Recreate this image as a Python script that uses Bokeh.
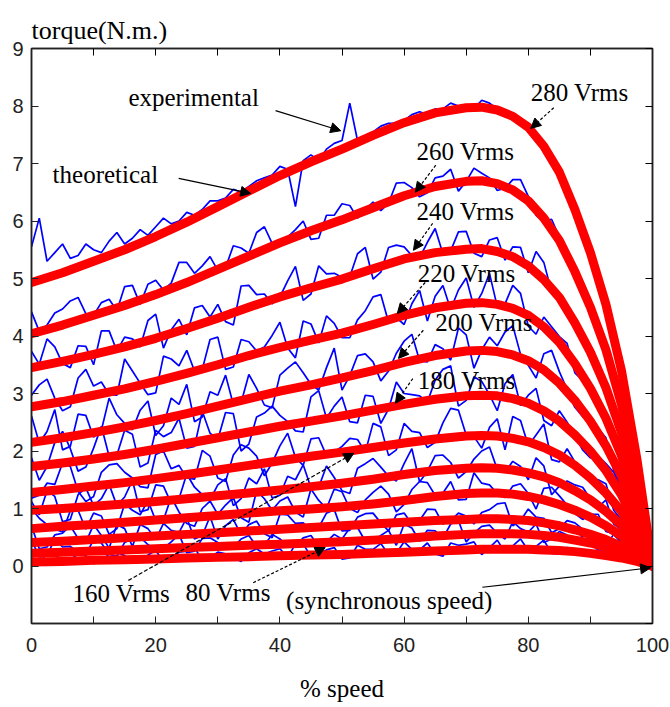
from bokeh.plotting import figure
from bokeh.models import Range1d, LinearAxis, FixedTicker, Arrow, NormalHead, Label
from bokeh.embed import file_html
from bokeh.resources import INLINE

# ---------------- data ----------------
speed_theory = [0, 5, 10, 15, 20, 25, 30, 35, 40, 45, 50, 55, 60, 65, 70, 72.5, 75, 77.5,
                80, 82.5, 85, 87.5, 90, 92.5, 95, 97.5, 100]

torque_280_theory = [4.93, 5.10, 5.30, 5.50, 5.73, 5.98, 6.25, 6.52, 6.79, 7.03, 7.25, 7.49, 7.71, 7.88, 7.97, 7.98, 7.93, 7.82, 7.63, 7.30, 6.85, 6.20, 5.45, 4.55, 3.40, 1.85, 0.0]
torque_260_theory = [4.04, 4.19, 4.36, 4.53, 4.72, 4.93, 5.16, 5.39, 5.62, 5.83, 6.02, 6.23, 6.44, 6.60, 6.69, 6.70, 6.65, 6.54, 6.35, 6.05, 5.66, 5.12, 4.50, 3.76, 2.81, 1.53, 0.0]
torque_240_theory = [3.45, 3.56, 3.68, 3.81, 3.96, 4.13, 4.31, 4.50, 4.68, 4.84, 4.99, 5.17, 5.34, 5.45, 5.51, 5.52, 5.47, 5.38, 5.22, 4.98, 4.67, 4.23, 3.72, 3.10, 2.32, 1.26, 0.0]
torque_220_theory = [2.77, 2.86, 2.97, 3.08, 3.21, 3.35, 3.50, 3.66, 3.80, 3.93, 4.05, 4.20, 4.36, 4.49, 4.57, 4.58, 4.55, 4.48, 4.36, 4.16, 3.89, 3.52, 3.09, 2.57, 1.92, 1.04, 0.0]
torque_200_theory = [2.15, 2.23, 2.32, 2.42, 2.53, 2.65, 2.78, 2.91, 3.04, 3.15, 3.27, 3.40, 3.54, 3.66, 3.74, 3.75, 3.73, 3.67, 3.57, 3.41, 3.18, 2.88, 2.52, 2.09, 1.56, 0.85, 0.0]
torque_180_theory = [1.73, 1.79, 1.86, 1.94, 2.03, 2.13, 2.23, 2.33, 2.43, 2.52, 2.61, 2.71, 2.81, 2.90, 2.96, 2.97, 2.96, 2.91, 2.83, 2.70, 2.52, 2.28, 2.00, 1.66, 1.24, 0.68, 0.0]
torque_160_theory = [1.28, 1.33, 1.39, 1.45, 1.52, 1.59, 1.67, 1.75, 1.83, 1.91, 1.98, 2.06, 2.14, 2.21, 2.26, 2.27, 2.26, 2.22, 2.16, 2.06, 1.93, 1.75, 1.53, 1.27, 0.95, 0.52, 0.0]
torque_140_theory = [0.97, 1.00, 1.04, 1.08, 1.12, 1.17, 1.22, 1.27, 1.32, 1.38, 1.44, 1.51, 1.59, 1.66, 1.70, 1.71, 1.70, 1.67, 1.62, 1.55, 1.45, 1.31, 1.15, 0.95, 0.71, 0.39, 0.0]
torque_120_theory = [0.65, 0.69, 0.72, 0.76, 0.80, 0.84, 0.88, 0.92, 0.96, 0.99, 1.03, 1.08, 1.14, 1.21, 1.26, 1.27, 1.27, 1.25, 1.21, 1.15, 1.07, 0.97, 0.85, 0.70, 0.52, 0.29, 0.0]
torque_100_theory = [0.41, 0.43, 0.46, 0.49, 0.52, 0.55, 0.58, 0.61, 0.64, 0.67, 0.70, 0.73, 0.76, 0.79, 0.81, 0.82, 0.82, 0.81, 0.79, 0.75, 0.70, 0.63, 0.55, 0.46, 0.34, 0.19, 0.0]
torque_80_theory = [0.22, 0.24, 0.26, 0.28, 0.30, 0.32, 0.34, 0.36, 0.38, 0.40, 0.42, 0.45, 0.48, 0.52, 0.55, 0.56, 0.56, 0.56, 0.55, 0.53, 0.50, 0.45, 0.40, 0.33, 0.25, 0.14, 0.0]
torque_60_theory = [0.07, 0.08, 0.10, 0.11, 0.12, 0.14, 0.15, 0.16, 0.18, 0.19, 0.20, 0.22, 0.24, 0.26, 0.28, 0.29, 0.29, 0.29, 0.29, 0.28, 0.27, 0.25, 0.22, 0.18, 0.14, 0.08, 0.0]

speed_measured = [0, 1.25, 2.5, 3.75, 5, 6.25, 7.5, 8.75, 10, 11.25,
                  12.5, 13.75, 15, 16.25, 17.5, 18.75, 20, 21.25, 22.5, 23.75,
                  25, 26.25, 27.5, 28.75, 30, 31.25, 32.5, 33.75, 35, 36.25,
                  37.5, 38.75, 40, 41.25, 42.5, 43.75, 45, 46.25, 47.5, 48.75,
                  50, 51.25, 52.5, 53.75, 55, 56.25, 57.5, 58.75, 60, 61.25,
                  62.5, 63.75, 65, 66.25, 67.5, 68.75, 70, 71.25, 72.5, 73.75,
                  75, 76.25, 77.5, 78.75, 80, 81.25, 82.5, 83.75, 85, 86.25,
                  87.5, 88.75, 90, 91.25, 92.5, 93.75, 95, 96.25, 97.5, 98.75,
                  100]

torque_280_measured = [5.55, 6.05, 5.30, 5.45, 5.60, 5.35, 5.40, 5.60, 5.50, 5.45,
                       5.65, 5.80, 5.60, 5.70, 5.85, 5.75, 5.90, 6.05, 5.95, 6.00,
                       6.15, 6.10, 6.20, 6.35, 6.35, 6.40, 6.55, 6.50, 6.60, 6.70,
                       6.75, 6.80, 6.95, 6.90, 6.25, 7.05, 7.15, 7.05, 7.25, 7.35,
                       7.40, 8.05, 7.40, 7.45, 7.55, 7.65, 7.70, 7.70, 7.75, 7.85,
                       7.90, 7.85, 7.95, 7.95, 8.05, 8.00, 8.00, 7.95, 8.10, 8.05,
                       7.95, 7.85, 7.85, 7.75, 7.55, 7.45, 7.35, 7.05, 6.80, 6.60,
                       6.25, 5.75, 5.40, 5.05, 4.60, 3.95, 3.30, 2.70, 1.90, 0.95,
                       0.05]
torque_260_measured = [4.42, 4.08, 4.19, 4.40, 4.47, 4.61, 4.67, 4.39, 4.36, 4.58,
                       4.64, 4.44, 4.86, 4.88, 4.55, 4.90, 4.97, 4.80, 4.92, 5.28,
                       5.28, 5.09, 5.22, 5.38, 5.14, 5.19, 5.57, 5.53, 5.44, 5.80,
                       5.90, 5.61, 5.65, 5.72, 5.85, 6.00, 5.68, 5.70, 6.10, 6.10,
                       6.30, 6.27, 6.05, 6.20, 6.33, 6.18, 6.31, 6.66, 6.67, 6.58,
                       6.42, 6.49, 6.75, 6.78, 6.90, 6.52, 6.69, 6.92, 6.83, 6.75,
                       6.53, 6.57, 6.72, 6.72, 6.43, 6.10, 6.00, 6.03, 5.72, 5.37,
                       5.09, 4.84, 4.52, 4.09, 3.71, 3.35, 2.85, 2.12, 1.51, 0.79,
                       0.02]
torque_240_measured = [3.73, 3.51, 3.95, 3.81, 3.52, 3.45, 3.83, 3.82, 3.50, 4.09,
                       4.09, 3.74, 3.98, 3.95, 3.81, 4.27, 4.38, 3.79, 4.11, 4.29,
                       4.02, 4.49, 4.53, 4.33, 4.55, 4.25, 4.19, 4.87, 4.88, 4.72,
                       4.73, 4.56, 4.68, 4.96, 5.21, 4.62, 4.73, 5.22, 5.08, 5.09,
                       5.02, 5.03, 5.43, 5.54, 4.99, 5.11, 5.54, 5.58, 5.55, 5.40,
                       5.36, 5.63, 5.87, 5.43, 5.48, 5.81, 5.82, 5.44, 5.38, 5.67,
                       5.71, 5.32, 5.55, 5.54, 5.10, 5.47, 5.28, 4.77, 4.64, 4.47,
                       4.31, 3.88, 3.63, 3.48, 3.15, 2.74, 2.27, 1.73, 1.29, 0.73,
                       0.03]
torque_220_measured = [2.97, 3.15, 3.25, 2.92, 2.70, 2.77, 3.27, 3.42, 3.13, 3.20,
                       2.98, 2.97, 3.60, 3.39, 3.18, 2.98, 3.01, 3.65, 3.60, 3.48,
                       3.75, 3.39, 3.42, 3.94, 3.98, 3.42, 3.46, 3.94, 3.90, 3.74,
                       3.81, 4.01, 4.24, 3.79, 3.62, 4.26, 4.21, 3.88, 4.35, 4.22,
                       3.97, 3.97, 4.28, 4.44, 4.68, 4.72, 4.24, 4.32, 4.20, 4.56,
                       4.79, 4.26, 4.69, 4.88, 4.46, 4.80, 5.01, 4.50, 4.74, 5.09,
                       4.51, 4.56, 4.88, 4.74, 4.17, 4.03, 4.33, 4.16, 3.99, 3.87,
                       3.36, 3.23, 3.17, 2.83, 2.53, 2.39, 2.02, 1.38, 0.98, 0.58,
                       0.04]
torque_200_measured = [2.61, 2.14, 2.34, 2.72, 2.02, 2.08, 2.64, 2.62, 2.24, 2.36,
                       2.92, 2.63, 2.48, 2.37, 2.71, 2.87, 2.27, 2.44, 2.92, 2.81,
                       3.16, 2.51, 2.59, 3.03, 2.97, 3.32, 2.81, 2.84, 3.33, 3.09,
                       2.80, 2.75, 3.32, 3.44, 3.55, 3.36, 3.16, 3.06, 3.45, 3.79,
                       3.06, 3.31, 3.66, 3.69, 3.55, 3.22, 3.39, 3.70, 3.91, 4.03,
                       3.57, 3.55, 3.85, 3.78, 3.58, 4.14, 4.02, 3.44, 3.76, 3.98,
                       3.83, 4.07, 4.18, 3.68, 3.49, 3.27, 3.69, 3.75, 3.38, 3.07,
                       2.76, 2.60, 2.56, 2.39, 2.23, 1.67, 1.38, 1.35, 0.93, 0.45,
                       0.03]
torque_180_measured = [1.88, 1.49, 1.73, 2.15, 2.34, 2.04, 1.65, 1.72, 2.05, 2.43,
                       1.91, 1.93, 2.36, 2.29, 1.72, 1.79, 2.36, 2.25, 2.32, 2.57,
                       2.05, 2.08, 2.69, 2.31, 2.20, 2.67, 2.65, 2.00, 2.12, 2.59,
                       2.66, 2.78, 2.62, 2.51, 2.35, 2.33, 2.94, 3.05, 2.57, 2.78,
                       2.94, 2.51, 2.49, 2.97, 2.95, 2.48, 2.73, 3.20, 3.00, 2.98,
                       2.96, 2.85, 3.23, 3.42, 3.48, 2.78, 2.88, 3.29, 3.21, 2.98,
                       2.70, 3.17, 3.33, 2.79, 2.97, 3.09, 2.53, 2.44, 2.70, 2.50,
                       2.26, 2.02, 1.88, 1.91, 1.78, 1.63, 1.32, 0.90, 0.58, 0.38,
                       0.04]
torque_160_measured = [1.18, 1.23, 1.44, 1.42, 1.79, 1.73, 1.30, 1.12, 1.21, 1.63,
                       1.76, 1.78, 1.63, 1.53, 1.38, 1.36, 1.94, 2.00, 1.69, 1.75,
                       1.53, 1.51, 2.01, 1.91, 1.53, 1.47, 1.93, 2.11, 2.05, 1.91,
                       1.57, 1.79, 2.09, 2.31, 1.89, 1.75, 2.21, 2.23, 1.92, 1.98,
                       2.08, 2.22, 2.20, 1.98, 2.48, 2.42, 1.92, 2.02, 2.48, 2.34,
                       2.32, 2.06, 2.15, 2.49, 2.74, 2.71, 2.28, 2.25, 2.05, 2.41,
                       2.56, 2.02, 2.60, 2.53, 2.09, 2.28, 2.47, 1.85, 1.81, 2.04,
                       1.81, 1.60, 1.51, 1.50, 1.43, 0.97, 0.80, 0.78, 0.60, 0.34,
                       0.05]
torque_140_measured = [1.12, 0.89, 1.31, 1.21, 0.77, 0.81, 1.24, 1.36, 1.05, 1.17,
                       1.42, 1.05, 1.20, 1.49, 0.94, 0.98, 1.41, 1.39, 1.09, 1.17,
                       1.60, 1.37, 1.24, 1.15, 1.41, 1.52, 1.05, 1.17, 1.53, 1.43,
                       1.69, 1.18, 1.23, 1.56, 1.50, 1.76, 1.36, 1.37, 1.74, 1.54,
                       1.31, 1.26, 1.70, 1.78, 1.87, 1.72, 1.56, 1.48, 1.78, 2.04,
                       1.46, 1.65, 1.92, 1.93, 1.80, 1.53, 1.64, 1.86, 2.00, 2.07,
                       1.68, 1.63, 1.82, 1.73, 1.50, 1.88, 1.74, 1.24, 1.39, 1.48,
                       1.41, 1.37, 1.17, 1.02, 1.15, 0.73, 0.63, 0.70, 0.51, 0.25,
                       0.03]
torque_120_measured = [1.00, 0.83, 0.72, 0.64, 0.59, 0.96, 0.97, 0.64, 0.92, 0.87,
                       0.55, 0.65, 1.08, 0.97, 0.89, 1.14, 0.79, 0.80, 1.20, 0.94,
                       0.74, 0.69, 1.00, 1.13, 0.90, 1.06, 1.19, 0.84, 0.76, 1.31,
                       1.17, 0.97, 1.13, 1.20, 0.94, 0.85, 1.34, 1.14, 1.00, 1.34,
                       1.29, 1.00, 0.93, 1.15, 1.28, 1.39, 1.25, 0.94, 1.07, 1.33,
                       1.47, 1.45, 1.23, 1.27, 1.47, 1.15, 1.16, 1.62, 1.44, 1.41,
                       1.26, 1.19, 1.39, 1.43, 1.26, 0.99, 1.35, 1.37, 1.22, 1.06,
                       0.91, 0.81, 0.90, 0.90, 0.60, 0.56, 0.62, 0.49, 0.32, 0.19,
                       0.02]
torque_100_measured = [0.70, 0.30, 0.33, 0.54, 0.57, 0.70, 0.48, 0.41, 0.72, 0.53,
                       0.31, 0.72, 0.65, 0.34, 0.72, 0.65, 0.46, 0.74, 0.62, 0.58,
                       0.84, 0.47, 0.53, 0.86, 0.47, 0.70, 0.81, 0.54, 0.72, 0.78,
                       0.56, 0.49, 0.90, 0.89, 0.74, 0.75, 0.63, 0.67, 0.92, 0.98,
                       0.61, 0.62, 0.85, 0.91, 0.92, 0.75, 0.61, 0.89, 0.92, 0.73,
                       0.79, 0.99, 0.98, 0.73, 0.79, 0.92, 0.87, 0.73, 0.93, 0.98,
                       1.08, 1.10, 0.70, 0.79, 0.99, 0.85, 0.83, 0.58, 0.65, 0.79,
                       0.75, 0.64, 0.53, 0.43, 0.36, 0.55, 0.40, 0.24, 0.27, 0.16,
                       0.02]
torque_80_measured = [0.45, 0.16, 0.18, 0.47, 0.33, 0.34, 0.24, 0.21, 0.45, 0.40,
                      0.20, 0.17, 0.41, 0.48, 0.50, 0.37, 0.31, 0.30, 0.42, 0.55,
                      0.23, 0.26, 0.48, 0.49, 0.41, 0.36, 0.32, 0.47, 0.53, 0.34,
                      0.36, 0.55, 0.47, 0.34, 0.34, 0.49, 0.53, 0.34, 0.42, 0.55,
                      0.47, 0.66, 0.67, 0.43, 0.44, 0.53, 0.62, 0.36, 0.73, 0.66,
                      0.43, 0.62, 0.61, 0.48, 0.73, 0.79, 0.42, 0.57, 0.69, 0.71,
                      0.57, 0.47, 0.77, 0.65, 0.59, 0.73, 0.41, 0.47, 0.60, 0.54,
                      0.40, 0.53, 0.52, 0.29, 0.32, 0.37, 0.30, 0.25, 0.09, 0.10,
                      0.03]
torque_60_measured = [0.05, 0.02, 0.25, 0.20, 0.08, 0.10, 0.22, 0.18, 0.04, 0.08,
                      0.21, 0.24, 0.18, 0.08, 0.08, 0.19, 0.27, 0.08, 0.14, 0.24,
                      0.26, 0.32, 0.10, 0.15, 0.24, 0.21, 0.15, 0.08, 0.23, 0.30,
                      0.21, 0.26, 0.30, 0.15, 0.38, 0.38, 0.17, 0.20, 0.28, 0.32,
                      0.12, 0.14, 0.36, 0.29, 0.29, 0.39, 0.20, 0.22, 0.42, 0.29,
                      0.28, 0.40, 0.21, 0.17, 0.40, 0.36, 0.38, 0.42, 0.20, 0.32,
                      0.45, 0.24, 0.35, 0.47, 0.27, 0.34, 0.45, 0.22, 0.21, 0.32,
                      0.30, 0.20, 0.25, 0.28, 0.28, 0.13, 0.10, 0.17, 0.14, 0.06,
                      0.02]

x_tick_labels = [0, 20, 40, 60, 80, 100]
x_minor_ticks = [10, 30, 50, 70, 90]
y_ticks = [-1, 0, 1, 2, 3, 4, 5, 6, 7, 8, 9]

theory_series = [torque_280_theory, torque_260_theory, torque_240_theory, torque_220_theory,
                 torque_200_theory, torque_180_theory, torque_160_theory, torque_140_theory,
                 torque_120_theory, torque_100_theory, torque_80_theory, torque_60_theory]
measured_series = [torque_280_measured, torque_260_measured, torque_240_measured, torque_220_measured,
                   torque_200_measured, torque_180_measured, torque_160_measured, torque_140_measured,
                   torque_120_measured, torque_100_measured, torque_80_measured, torque_60_measured]
for s in measured_series:
    assert len(s) == len(speed_measured), len(s)
for s in theory_series:
    assert len(s) == len(speed_theory), len(s)

# ---------------- figure ----------------
p = figure(width=670, height=707, x_range=Range1d(0, 100), y_range=Range1d(-1, 9),
           output_backend="svg", toolbar_location=None,
           min_border_left=31, min_border_right=18, min_border_top=48, min_border_bottom=84)
p.grid.visible = False
p.background_fill_color = "white"
p.border_fill_color = "white"
p.outline_line_color = "#222222"
p.outline_line_width = 1.5

p.title.text = "torque(N.m.)"
p.title.text_font = "Liberation Serif"
p.title.text_font_size = "26px"
p.title.text_font_style = "normal"
p.title.align = "left"
p.title.text_color = "black"
p.title.standoff = 8

tick_font = "Liberation Sans"

xa = p.xaxis[0]
xa.ticker = FixedTicker(ticks=x_tick_labels, minor_ticks=x_minor_ticks)
ya = p.yaxis[0]
ya.ticker = FixedTicker(ticks=y_ticks)
ya.major_label_overrides = {-1: ""}

for ax in (xa, ya):
    ax.major_tick_in = 7
    ax.major_tick_out = 0
    ax.minor_tick_in = 7
    ax.minor_tick_out = 0
    ax.axis_line_color = "#222222"
    ax.axis_line_width = 1.5
    ax.major_tick_line_color = "#222222"
    ax.minor_tick_line_color = "#222222"
    ax.major_label_text_font = tick_font
    ax.major_label_text_font_size = "20px"
    ax.major_label_text_color = "#222222"

xa.major_label_standoff = 14
ya.major_label_standoff = 8
xa.axis_label = "% speed"
xa.axis_label_text_font = "Liberation Serif"
xa.axis_label_text_font_size = "25px"
xa.axis_label_text_font_style = "normal"
xa.axis_label_text_color = "black"
xa.axis_label_standoff = 20

top_axis = LinearAxis(ticker=FixedTicker(ticks=x_tick_labels, minor_ticks=x_minor_ticks),
                      major_label_overrides={t: "" for t in x_tick_labels},
                      major_tick_in=7, major_tick_out=0, minor_tick_in=7, minor_tick_out=0,
                      major_label_standoff=0, axis_line_color="#222222", axis_line_width=1.5,
                      major_label_text_font_size="1px")
right_axis = LinearAxis(ticker=FixedTicker(ticks=y_ticks),
                        major_label_overrides={t: "" for t in y_ticks},
                        major_tick_in=7, major_tick_out=0, minor_tick_in=0, minor_tick_out=0,
                        major_label_standoff=0, axis_line_color="#222222", axis_line_width=1.5,
                        major_label_text_font_size="1px")
p.add_layout(top_axis, "above")
p.add_layout(right_axis, "right")

for meas in measured_series:
    p.line(speed_measured, meas, line_color="#0000ff", line_width=1.7)
for theo in theory_series:
    p.line(speed_theory, theo, line_color="#ff0000", line_width=9, line_join="round", line_cap="round")

# ---------------- annotations ----------------
label_font = "Liberation Serif"
labels = [
    ("experimental", 15.6, 8.15),
    ("theoretical", 3.4, 6.81),
    ("280 Vrms", 80.4, 8.23),
    ("260 Vrms", 62.0, 7.21),
    ("240 Vrms", 62.0, 6.16),
    ("220 Vrms", 62.2, 5.09),
    ("200 Vrms", 65.0, 4.23),
    ("180 Vrms", 62.2, 3.22),
    ("160 Vrms", 6.6, -0.48),
    ("80 Vrms", 24.8, -0.46),
    ("(synchronous speed)", 41.0, -0.60),
]
for txt, lx, ly in labels:
    p.add_layout(Label(x=lx, y=ly, text=txt, text_font=label_font, text_font_size="25px",
                       text_baseline="middle", text_align="left", text_color="black"))

arrows = [
    (39.3, 7.92, 49.8, 7.57, None),
    (23.7, 6.74, 35.3, 6.48, None),
    (84.1, 7.97, 80.4, 7.61, "3 2"),
    (65.1, 6.97, 61.8, 6.50, "3 2"),
    (64.6, 5.96, 61.5, 5.49, "3 2"),
    (63.4, 4.93, 58.9, 4.39, "3 2"),
    (63.1, 4.10, 59.1, 3.61, "3 2"),
    (61.4, 3.26, 58.6, 2.83, "3 2"),
    (15.6, -0.25, 51.9, 1.96, "4 2"),
    (35.7, -0.29, 47.3, 0.32, "3 2"),
    (72.6, -0.37, 99.7, -0.03, None),
]
for x0, y0, x1, y1, dash in arrows:
    kw = dict(line_dash=dash) if dash else {}
    p.add_layout(Arrow(end=NormalHead(size=10, fill_color="black", line_color="black", line_width=1),
                       x_start=x0, y_start=y0, x_end=x1, y_end=y1,
                       line_color="black", line_width=1.2, **kw))

open("out.html", "w").write(file_html(p, INLINE))
